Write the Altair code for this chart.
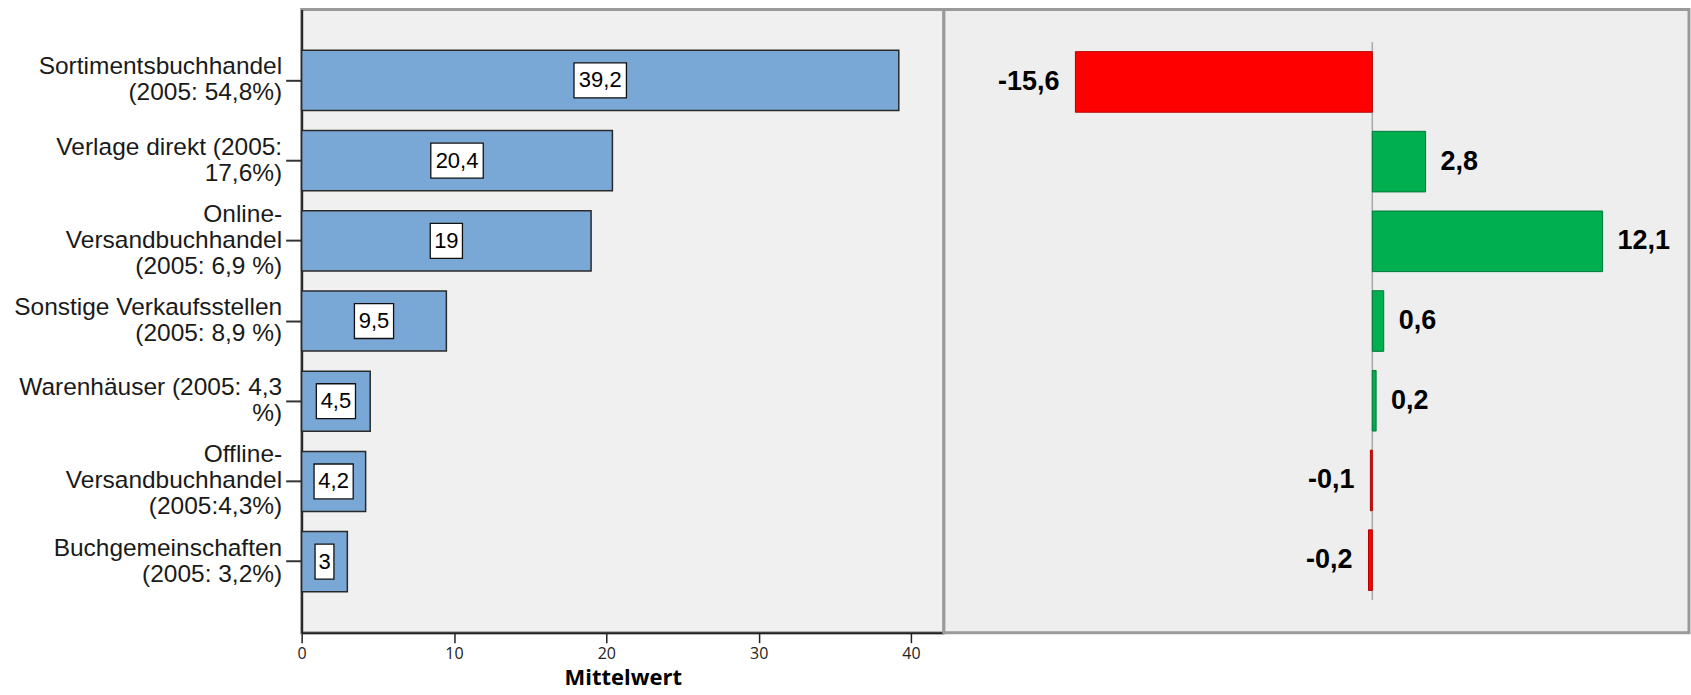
import altair as alt
import pandas as pd

# Absatzwege: Anteil (Mittelwert, %) und Veränderung gegenüber 2005 (Prozentpunkte)
kategorien = [
    "Sortimentsbuchhandel\n(2005: 54,8%)",
    "Verlage direkt (2005:\n17,6%)",
    "Online-\nVersandbuchhandel\n(2005: 6,9 %)",
    "Sonstige Verkaufsstellen\n(2005: 8,9 %)",
    "Warenhäuser (2005: 4,3\n%)",
    "Offline-\nVersandbuchhandel\n(2005:4,3%)",
    "Buchgemeinschaften\n(2005: 3,2%)",
]
mittelwert = [39.2, 20.4, 19, 9.5, 4.5, 4.2, 3]
veraenderung = [-15.6, 2.8, 12.1, 0.6, 0.2, -0.1, -0.2]
x_ticks = [0, 10, 20, 30, 40]


def de(v):
    return f"{v:g}".replace(".", ",")


df = pd.DataFrame({
    "kat": kategorien,
    "wert": mittelwert,
    "diff": veraenderung,
    "lbl": [de(v) for v in mittelwert],
    "dlbl": [de(v) for v in veraenderung],
})
df["laenge"] = df["lbl"].str.len()

# white label boxes: symbol paths, unit = 35 px at size 4900
box_paths = [
    "M-0.27,-0.5L0.27,-0.5L0.27,0.5L-0.27,0.5Z",
    "M-0.46,-0.5L0.46,-0.5L0.46,0.5L-0.46,0.5Z",
    "M-0.56,-0.5L0.56,-0.5L0.56,0.5L-0.56,0.5Z",
    "M-0.75,-0.5L0.75,-0.5L0.75,0.5L-0.75,0.5Z",
]

W_LEFT, W_RIGHT, H = 643, 746, 624
LINE_H = 26

y_left = alt.Scale(domain=kategorien, paddingInner=0.25, paddingOuter=0.51)
x_left = alt.Scale(domain=[0, 42.16], nice=False, zero=True)

x_axis = alt.Axis(
    values=x_ticks, title="Mittelwert", grid=False, labelFlush=False,
    titleFont="Open Sans", titleFontWeight="bold", titleFontSize=22,
    titleColor="black", titlePadding=6,
    labelFont="Open Sans", labelFontSize=16, labelColor="#222", labelPadding=3,
    tickSize=10, tickColor="#222", tickWidth=1.5,
    domainColor="#222", domainWidth=2,
)
# multi-line labels: centre the whole block on its tick
y_axis = alt.Axis(
    title=None, labelExpr="split(datum.label, '\\n')",
    labelFont="Liberation Sans", labelFontSize=24.5, labelColor="#1a1a1a",
    labelLineHeight=LINE_H, labelLimit=0, labelPadding=4,
    labelOffset={
        "condition": {"test": "length(split(datum.value, '\\n')) > 2", "value": -LINE_H},
        "value": -LINE_H / 2,
    },
    tickSize=16, tickColor="#333", tickWidth=2,
    domainColor="#222", domainWidth=2,
)


def xl(field):
    return alt.X(field, type="quantitative", scale=x_left, axis=x_axis, title="Mittelwert")


def yl():
    return alt.Y("kat:N", scale=y_left, sort=kategorien, axis=y_axis)


base_left = alt.Chart(df).transform_calculate(mitte="datum.wert / 2")

bars_left = base_left.mark_bar(
    color="#7aa8d6", stroke="#2a2a2a", strokeWidth=1.5
).encode(x=xl("wert"), y=yl())

boxes = base_left.mark_point(
    filled=True, fill="white", stroke="#111", strokeWidth=1.3, size=4900, opacity=1
).encode(
    x=xl("mitte"), y=yl(),
    shape=alt.Shape("laenge:N", scale=alt.Scale(domain=[1, 2, 3, 4], range=box_paths), legend=None),
)

box_text = base_left.mark_text(
    font="Liberation Sans", fontSize=22, color="black", align="center", baseline="middle"
).encode(x=xl("mitte"), y=yl(), text="lbl:N")

left = alt.layer(
    bars_left, boxes, box_text,
    view=alt.ViewBackground(fill="#f0f0f0", stroke="#9a9a9a", strokeWidth=3),
).properties(width=W_LEFT, height=H)

# right panel: change since 2005
y_right = alt.Scale(domain=kategorien, paddingInner=0.24, paddingOuter=0.53)
x_right = alt.Scale(domain=[-22.51, 16.64], nice=False, zero=False)

base_right = alt.Chart(df)
yr = alt.Y("kat:N", scale=y_right, sort=kategorien, axis=None)

zero_line = base_right.mark_tick(
    orient="vertical", size=80, thickness=1.5, color="#8a8a8a"
).encode(x=alt.X(datum=0, type="quantitative", scale=x_right, axis=None), y=yr)

bars_right = base_right.mark_bar(strokeWidth=1).encode(
    x=alt.X("diff:Q", scale=x_right, axis=None),
    y=yr,
    color=alt.condition("datum.diff < 0", alt.value("#ff0000"), alt.value("#00b050")),
    stroke=alt.condition("datum.diff < 0", alt.value("#b40000"), alt.value("#00763a")),
)

txt_pos = base_right.transform_filter("datum.diff >= 0").mark_text(
    align="left", baseline="middle", dx=15,
    font="Liberation Sans", fontWeight="bold", fontSize=27, color="black",
).encode(x=alt.X("diff:Q", scale=x_right, axis=None), y=yr, text="dlbl:N")

txt_neg = base_right.transform_filter("datum.diff < 0").mark_text(
    align="right", baseline="middle", dx=-16,
    font="Liberation Sans", fontWeight="bold", fontSize=27, color="black",
).encode(x=alt.X("diff:Q", scale=x_right, axis=None), y=yr, text="dlbl:N")

right = alt.layer(
    zero_line, bars_right, txt_pos, txt_neg,
    view=alt.ViewBackground(fill="#eeeeee", stroke="#9a9a9a", strokeWidth=3),
).properties(width=W_RIGHT, height=H)

chart = alt.hconcat(left, right, spacing=0, bounds="flush").properties(
    padding={"left": 12, "top": 7, "right": 0, "bottom": 0},
    background="white",
).resolve_scale(x="independent", y="independent")

chart.save("out.html", embed_options={"renderer": "svg", "actions": False})
